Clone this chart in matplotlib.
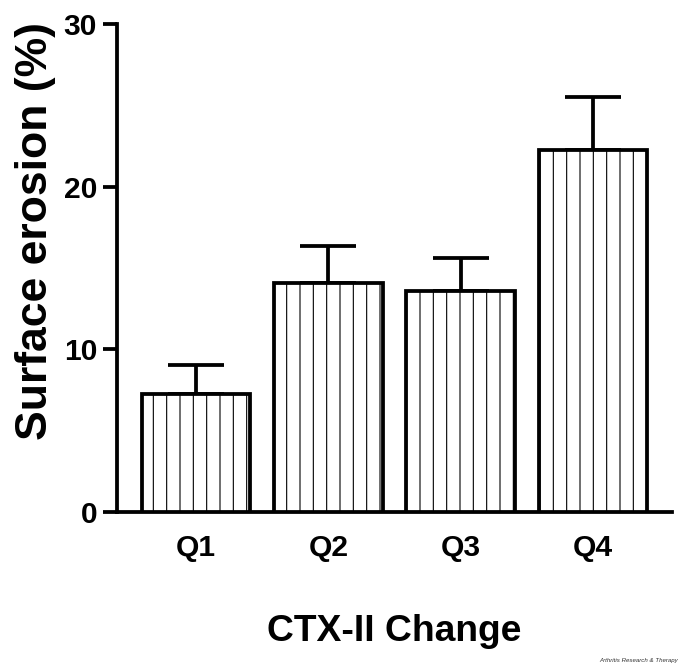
import matplotlib
matplotlib.use("Agg")
import matplotlib.pyplot as plt

plt.rcParams['font.family'] = ['Liberation Sans', 'DejaVu Sans']
plt.rcParams['hatch.linewidth'] = 1.0

groups = ['Q1', 'Q2', 'Q3', 'Q4']
erosion = [7.25, 14.05, 13.6, 22.25]
sem = [1.8, 2.3, 2.0, 3.25]
yticks = [0, 10, 20, 30]

DPI = 80
fig = plt.figure(figsize=(685 / DPI, 671 / DPI), dpi=DPI)
ax = fig.add_axes([117 / 685, 1 - 512 / 671, (672 - 117) / 685, (512 - 24) / 671])

x = list(range(len(groups)))
ax.bar(x, erosion, width=0.82, color='white', edgecolor='black',
       linewidth=3.4, hatch='|', zorder=3)
ax.errorbar(x, erosion, yerr=[[0] * len(sem), sem], fmt='none',
            ecolor='black', elinewidth=3.4, capsize=25, capthick=3.4, zorder=2)

ax.set_xlim(-0.6, 3.6)
ax.set_ylim(0, 30)
ax.set_yticks(yticks)
ax.set_xticks(x)
ax.set_xticklabels(groups, fontsize=27, fontweight='bold')
ax.tick_params(axis='y', labelsize=27, width=3.4, length=13, pad=5)
ax.tick_params(axis='x', length=0, pad=20)
for lbl in ax.get_yticklabels():
    lbl.set_fontweight('bold')

for side in ['top', 'right']:
    ax.spines[side].set_visible(False)
for side in ['left', 'bottom']:
    ax.spines[side].set_linewidth(3.4)

ax.set_ylabel('Surface erosion (%)', fontsize=40, fontweight='bold')
ax.yaxis.set_label_coords(-0.11, 0.575)
ax.set_xlabel('CTX-II Change', fontsize=33.5, fontweight='bold', labelpad=47)

fig.text(0.99, 0.012, 'Arthritis Research & Therapy', fontsize=5.5,
         style='italic', ha='right', va='bottom', color='#333333')

fig.savefig('out.png', dpi=DPI)
